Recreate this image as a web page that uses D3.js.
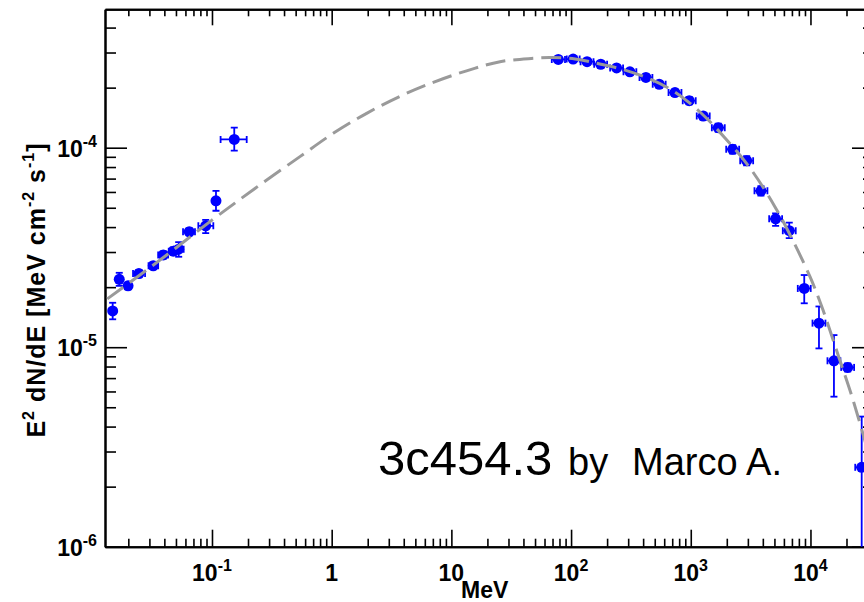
<!DOCTYPE html>
<html>
<head>
<meta charset="utf-8">
<script src="https://cdn.jsdelivr.net/npm/d3@7"></script>
<style>
  body { margin: 0; background: #fff; }
  text { font-family: 'Liberation Sans', Arial, sans-serif; }
</style>
</head>
<body>
<svg id="chart" width="864" height="602"></svg>
<script>
// measured SED points (MeV, MeV cm^-2 s^-1)
var energy = [0.0148, 0.0168, 0.0199, 0.0245, 0.0323, 0.0392, 0.0475, 0.0527, 0.0646, 0.0886, 0.108, 0.1535,
  78.2, 104, 136, 177, 240, 310, 422, 545, 738, 971, 1271, 1698, 2239, 2931, 3857, 5117, 6650, 8873, 11780, 15710, 20450, 26790];
var energyLo = [0.0142, 0.0160, 0.0189, 0.0219, 0.0295, 0.0355, 0.0435, 0.0480, 0.0573, 0.0769, 0.102, 0.118,
  69, 92, 120, 156, 212, 274, 373, 481, 652, 857, 1122, 1500, 1977, 2588, 3406, 4519, 5873, 7836, 10400, 13870, 18060, 23660];
var energyHi = [0.0154, 0.0176, 0.0210, 0.0276, 0.0355, 0.0430, 0.0520, 0.0580, 0.0721, 0.1026, 0.114, 0.195,
  89, 118, 154, 200, 272, 351, 478, 617, 836, 1100, 1440, 1923, 2536, 3320, 4369, 5796, 7532, 10050, 13340, 17790, 23160, 30340];
var flux = [1.52e-5, 2.19e-5, 2.03e-5, 2.34e-5, 2.56e-5, 2.90e-5, 3.03e-5, 3.10e-5, 3.79e-5, 4.06e-5, 5.42e-5, 1.10e-4,
  2.77e-4, 2.78e-4, 2.70e-4, 2.62e-4, 2.51e-4, 2.40e-4, 2.25e-4, 2.08e-4, 1.89e-4, 1.72e-4, 1.44e-4, 1.26e-4,
  9.82e-5, 8.61e-5, 6.08e-5, 4.40e-5, 3.84e-5, 1.97e-5, 1.32e-5, 8.55e-6, 7.92e-6, 2.50e-6];
var fluxLo = [1.38e-5, 2.03e-5, 1.95e-5, 2.24e-5, 2.46e-5, 2.78e-5, 2.90e-5, 2.84e-5, 3.64e-5, 3.73e-5, 4.83e-5, 9.66e-5,
  2.70e-4, 2.71e-4, 2.63e-4, 2.55e-4, 2.44e-4, 2.33e-4, 2.18e-4, 2.01e-4, 1.82e-4, 1.65e-4, 1.38e-4, 1.20e-4,
  9.35e-5, 8.15e-5, 5.75e-5, 4.06e-5, 3.52e-5, 1.66e-5, 9.86e-6, 5.65e-6, 7.55e-6, 1e-7];
var fluxHi = [1.67e-5, 2.36e-5, 2.11e-5, 2.44e-5, 2.66e-5, 3.02e-5, 3.16e-5, 3.36e-5, 3.94e-5, 4.35e-5, 6.08e-5, 1.26e-4,
  2.85e-4, 2.86e-4, 2.77e-4, 2.69e-4, 2.58e-4, 2.47e-4, 2.32e-4, 2.15e-4, 1.96e-4, 1.79e-4, 1.50e-4, 1.32e-4,
  1.03e-4, 9.07e-5, 6.41e-5, 4.69e-5, 4.21e-5, 2.30e-5, 1.60e-5, 1.15e-5, 8.30e-6, 4.49e-6];

// model curve
var modelEnergy = [0.01334, 0.0368, 0.0982, 0.2286, 0.543, 1.03, 1.96, 3.72, 7.06, 13.4, 25.5, 48.3, 66.7,
  108, 174, 282, 456, 738, 1194, 1932, 3126, 5058, 6761, 9931, 12735, 17020, 22700, 29170];
var modelFlux = [1.746e-5, 2.735e-5, 4.30e-5, 6.25e-5, 9.02e-5, 1.180e-4, 1.487e-4, 1.809e-4, 2.127e-4, 2.429e-4, 2.698e-4, 2.805e-4, 2.831e-4,
  2.786e-4, 2.630e-4, 2.449e-4, 2.208e-4, 1.901e-4, 1.510e-4, 1.119e-4, 7.91e-5, 5.05e-5, 3.65e-5, 2.25e-5, 1.535e-5, 9.14e-6, 5.43e-6, 3.24e-6];

var xTickValues = [0.1, 1, 10, 100, 1000, 10000];
var xTickLabels = [['10', '-1'], ['1', ''], ['10', ''], ['10', '2'], ['10', '3'], ['10', '4']];
var yTickValues = [1e-6, 1e-5, 1e-4];
var yTickLabels = [['10', '-6'], ['10', '-5'], ['10', '-4']];

var box = {left: 105, right: 874, top: 9.3, bottom: 546.7};
var blue = '#0000ff';

var svg = d3.select('#chart');

var x = d3.scaleLog().domain([0.01277, 33950]).range([box.left, box.right]);
var y = d3.scaleLog().domain([1e-6, 4.94e-4]).range([box.bottom, box.top]);

var xMinor = x.ticks().filter(function(v) { return xTickValues.indexOf(v) < 0; });
var yMinor = y.ticks().filter(function(v) {
  return yTickValues.every(function(m) { return Math.abs(v / m - 1) > 1e-6; });
});

function styleAxis(g) {
  g.selectAll('.domain').attr('stroke', '#000').attr('stroke-width', 2);
  g.selectAll('.tick line').attr('stroke', '#000').attr('stroke-width', 1.6);
  g.selectAll('.tick text').remove();
}

function drawAxis(gen, scale, values, size, tx, ty) {
  svg.append('g')
    .attr('transform', 'translate(' + tx + ',' + ty + ')')
    .call(gen(scale).tickValues(values).tickSizeInner(size).tickSizeOuter(0).tickFormat(''))
    .call(styleAxis);
}

// ticks point inwards on all four sides
drawAxis(d3.axisBottom, x, xTickValues, -17, 0, box.bottom);
drawAxis(d3.axisBottom, x, xMinor, -8, 0, box.bottom);
drawAxis(d3.axisTop, x, xTickValues, -16, 0, box.top);
drawAxis(d3.axisTop, x, xMinor, -7, 0, box.top);
drawAxis(d3.axisLeft, y, yTickValues, -22, box.left, 0);
drawAxis(d3.axisLeft, y, yMinor, -11, box.left, 0);
drawAxis(d3.axisRight, y, yTickValues, -22, box.right, 0);
drawAxis(d3.axisRight, y, yMinor, -11, box.right, 0);

// tick labels with superscripts
function powerLabel(g, lab, px, py, anchor) {
  var t = g.append('text')
    .attr('x', px)
    .attr('y', py)
    .attr('text-anchor', anchor)
    .attr('font-weight', 'bold')
    .attr('font-size', 23)
    .attr('fill', '#000');
  t.append('tspan').text(lab[0]);
  if (lab[1]) {
    t.append('tspan').attr('dy', -10).attr('font-size', 16).text(lab[1]);
  }
}

var labels = svg.append('g');
xTickValues.forEach(function(v, i) {
  powerLabel(labels, xTickLabels[i], x(v), 581, 'middle');
});
yTickValues.forEach(function(v, i) {
  powerLabel(labels, yTickLabels[i], 97, y(v) + 9, 'end');
});

labels.append('text')
  .attr('x', 461)
  .attr('y', 598)
  .attr('font-weight', 'bold')
  .attr('font-size', 23)
  .text('MeV');

var yTitle = labels.append('text')
  .attr('transform', 'translate(45,290) rotate(-90)')
  .attr('text-anchor', 'middle')
  .attr('font-weight', 'bold')
  .attr('font-size', 25)
  .attr('letter-spacing', 1);
[['E', 0], ['2', -11], [' dN/dE [MeV cm', 11], ['-2', -11], [' s', 11], ['-1', -11], [']', 11]]
  .forEach(function(p, i) {
    yTitle.append('tspan')
      .attr('dy', i === 0 ? 0 : p[1])
      .attr('font-size', p[1] < 0 ? 16 : 25)
      .text(p[0]);
  });

// plot contents, clipped to the frame
svg.append('clipPath')
  .attr('id', 'plot-clip')
  .append('rect')
  .attr('x', box.left)
  .attr('y', box.top)
  .attr('width', box.right - box.left)
  .attr('height', box.bottom - box.top);

var plot = svg.append('g').attr('clip-path', 'url(#plot-clip)');

var points = energy.map(function(e, i) {
  return {e: e, f: flux[i], eLo: energyLo[i], eHi: energyHi[i], fLo: fluxLo[i], fHi: fluxHi[i]};
});

var bars = plot.append('g')
  .attr('stroke', blue)
  .attr('stroke-width', 1.8)
  .attr('fill', 'none');

points.forEach(function(d) {
  var cx = x(d.e), cy = y(d.f);
  bars.append('line').attr('x1', x(d.eLo)).attr('x2', x(d.eHi)).attr('y1', cy).attr('y2', cy);
  bars.append('line').attr('x1', cx).attr('x2', cx).attr('y1', y(d.fLo)).attr('y2', y(d.fHi));
  // end caps
  bars.append('line').attr('x1', x(d.eLo)).attr('x2', x(d.eLo)).attr('y1', cy - 3.5).attr('y2', cy + 3.5);
  bars.append('line').attr('x1', x(d.eHi)).attr('x2', x(d.eHi)).attr('y1', cy - 3.5).attr('y2', cy + 3.5);
  bars.append('line').attr('x1', cx - 3.5).attr('x2', cx + 3.5).attr('y1', y(d.fLo)).attr('y2', y(d.fLo));
  bars.append('line').attr('x1', cx - 3.5).attr('x2', cx + 3.5).attr('y1', y(d.fHi)).attr('y2', y(d.fHi));
});

plot.append('g')
  .selectAll('circle')
  .data(points)
  .enter()
  .append('circle')
  .attr('cx', function(d) { return x(d.e); })
  .attr('cy', function(d) { return y(d.f); })
  .attr('r', 5.5)
  .attr('fill', blue);

var model = modelEnergy.map(function(e, i) { return [e, modelFlux[i]]; });

plot.append('path')
  .datum(model)
  .attr('fill', 'none')
  .attr('stroke', '#9a9a9a')
  .attr('stroke-width', 3)
  .attr('stroke-dasharray', '20,8')
  .attr('d', d3.line()
    .x(function(d) { return x(d[0]); })
    .y(function(d) { return y(d[1]); })
    .curve(d3.curveCatmullRom));

// annotation
svg.append('text')
  .attr('x', 378)
  .attr('y', 475)
  .attr('font-size', 49)
  .text('3c454.3');
svg.append('text')
  .attr('x', 568)
  .attr('y', 475)
  .attr('font-size', 38)
  .text('by');
svg.append('text')
  .attr('x', 632)
  .attr('y', 475)
  .attr('font-size', 38)
  .text('Marco A.');
</script>
</body>
</html>
